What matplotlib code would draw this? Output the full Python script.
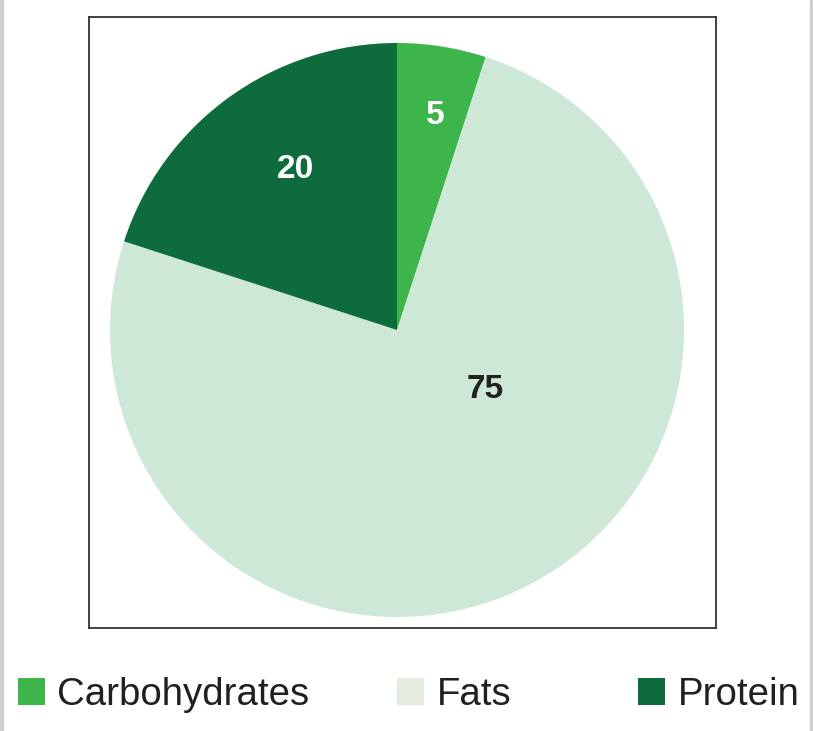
import matplotlib
matplotlib.use("Agg")
import matplotlib.pyplot as plt
from matplotlib.patches import Patch, Rectangle

categories = ["Carbohydrates", "Fats", "Protein"]
values = [5, 75, 20]
slice_colors = ["#3DB54A", "#CDE8D6", "#0E6B3B"]
legend_colors = ["#3DB54A", "#E3ECDF", "#0E6B3B"]
label_colors = ["white", "#222222", "white"]

plt.rcParams['font.family'] = ['Liberation Sans', 'DejaVu Sans']

W, H = 813, 731
fig = plt.figure(figsize=(W / 100, H / 100), dpi=100)
fig.patch.set_facecolor("white")

# thin grey bars at left / right edges
fig.patches.append(Rectangle((0, 0), 3 / W, 1, transform=fig.transFigure, color="#D0D0D0", zorder=0))
fig.patches.append(Rectangle((1 - 3 / W, 0), 3 / W, 1, transform=fig.transFigure, color="#D0D0D0", zorder=0))

ax_l, ax_r, ax_t, ax_b = 89, 716, 17, 628
ax = fig.add_axes([ax_l / W, (H - ax_b) / H, (ax_r - ax_l) / W, (ax_b - ax_t) / H])

cx, cy, R = 397, 330, 287
wedges, _ = ax.pie(values, colors=slice_colors, startangle=90, counterclock=False,
                   radius=R, frame=True, wedgeprops=dict(linewidth=0))
ax.set_xlim(ax_l - cx, ax_r - cx)
ax.set_ylim(cy - ax_b, cy - ax_t)
ax.set_xticks([])
ax.set_yticks([])
for s in ax.spines.values():
    s.set_color("#333333")
    s.set_linewidth(1.3)

# value labels (pixel offsets from pie centre), in category order
label_pos = [(38, 214), (88, -59), (-102, 160)]
for v, (dx, dy), c in zip(values, label_pos, label_colors):
    ax.text(dx, dy, str(v), ha="center", va="center", fontsize=24,
            fontweight="bold", color=c)

# legend entries
leg_x = [18, 397, 638]
fs = 27.6
for name, col, x in zip(categories, legend_colors, leg_x):
    leg = fig.legend(handles=[Patch(facecolor=col, edgecolor="none")], labels=[name],
                     loc="center left", bbox_to_anchor=(x / W, (H - 695) / H),
                     frameon=False, fontsize=fs, handlelength=0.7, handleheight=0.7,
                     handletextpad=0.33, borderpad=0, borderaxespad=0)
    for t in leg.get_texts():
        t.set_color("#231F20")

fig.savefig("out.png", dpi=100, facecolor="white")
